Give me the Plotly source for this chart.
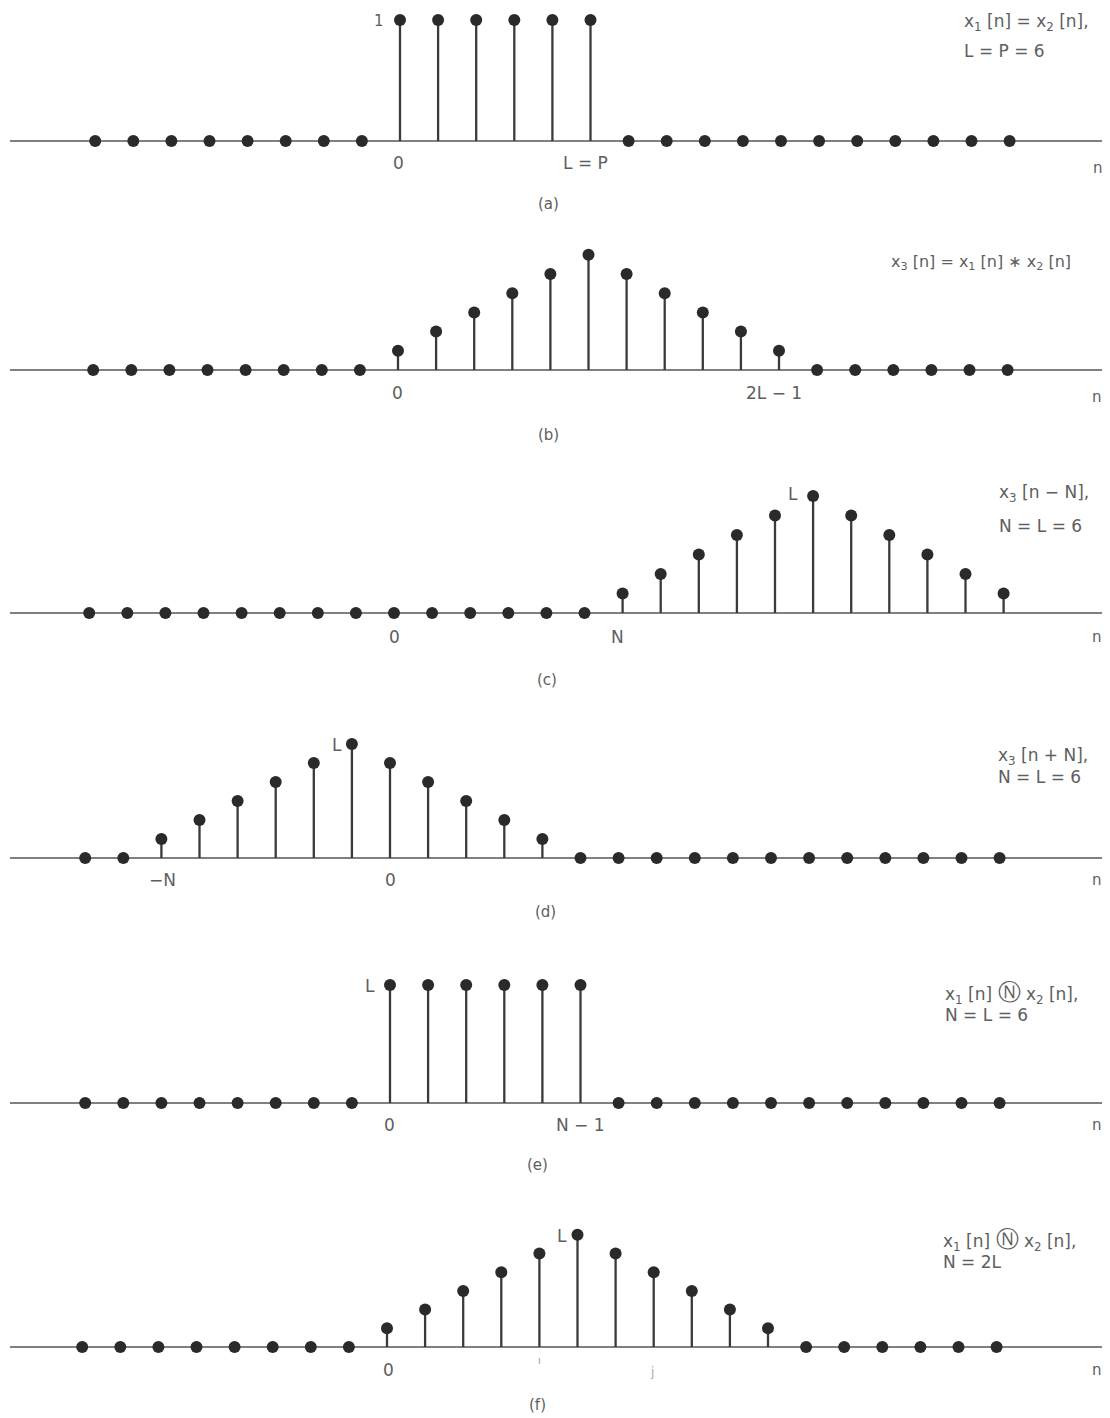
import plotly.graph_objects as go

OFF = 8                      # page body margin compensation
W, H = 1110 - 2 * OFF, 1418 - OFF

# ---- data ----
n = list(range(-8, 17))
a_vals = [0, 0, 0, 0, 0, 0, 0, 0, 1, 1, 1, 1, 1, 1, 0, 0, 0, 0, 0, 0, 0, 0, 0, 0, 0]
b_vals = [0, 0, 0, 0, 0, 0, 0, 0, 1, 2, 3, 4, 5, 6, 5, 4, 3, 2, 1, 0, 0, 0, 0, 0, 0]
c_vals = [0, 0, 0, 0, 0, 0, 0, 0, 0, 0, 0, 0, 0, 0, 1, 2, 3, 4, 5, 6, 5, 4, 3, 2, 1]
d_vals = [0, 0, 1, 2, 3, 4, 5, 6, 5, 4, 3, 2, 1, 0, 0, 0, 0, 0, 0, 0, 0, 0, 0, 0, 0]
e_vals = [0, 0, 0, 0, 0, 0, 0, 0, 6, 6, 6, 6, 6, 6, 0, 0, 0, 0, 0, 0, 0, 0, 0, 0, 0]
f_vals = [0, 0, 0, 0, 0, 0, 0, 0, 1, 2, 3, 4, 5, 6, 5, 4, 3, 2, 1, 0, 0, 0, 0, 0, 0]
series = [a_vals, b_vals, c_vals, d_vals, e_vals, f_vals]

# ---- layout geometry (screen pixels) ----
x0_px = [400, 398, 394, 390, 390, 387]      # pixel of n = 0 in each panel
step = 38.1                                  # pixels per sample
base_px = [141, 370, 613, 858, 1103, 1347]   # baseline pixel row
unit_px = [121, 19.2, 19.5, 19.0, 19.67, 18.7]
dom_l, dom_r = 10, 1102

STEM = '#3a3a3a'
DOT = '#2a2a2a'
TXT = '#5e5e5e'
FONT = 'DejaVu Sans'


def fx(px):
    return (px - OFF) / W


def fy(py):
    return 1 - (py - OFF) / H


fig = go.Figure()
layout = dict(width=W, height=H, margin=dict(l=0, r=0, t=0, b=0),
              paper_bgcolor='white', plot_bgcolor='white', showlegend=False)

for i, vals in enumerate(series):
    k = '' if i == 0 else str(i + 1)
    xs, ys = [], []
    for nn, v in zip(n, vals):
        if v != 0:
            xs += [nn, nn, None]
            ys += [0, v, None]
    fig.add_trace(go.Scatter(x=xs, y=ys, mode='lines',
                             line=dict(color=STEM, width=2.3),
                             xaxis='x' + k, yaxis='y' + k, hoverinfo='skip'))
    fig.add_trace(go.Scatter(x=n, y=vals, mode='markers',
                             marker=dict(color=DOT, size=12), cliponaxis=False,
                             xaxis='x' + k, yaxis='y' + k))
    xr = [(dom_l - x0_px[i]) / step, (dom_r - x0_px[i]) / step]
    top, bot = max(base_px[i] - 135, OFF), base_px[i] + 28
    yr = [(base_px[i] - bot) / unit_px[i], (base_px[i] - top) / unit_px[i]]
    layout['xaxis' + k] = dict(domain=[fx(dom_l), fx(dom_r)], range=xr,
                               showgrid=False, zeroline=False, showticklabels=False,
                               showline=False, ticks='', anchor='y' + k)
    layout['yaxis' + k] = dict(domain=[fy(bot), fy(top)], range=yr,
                               showgrid=False, zeroline=True, zerolinecolor='#808080',
                               zerolinewidth=2, showticklabels=False, showline=False,
                               ticks='', anchor='x' + k)

fig.update_layout(**layout)


def txt(px, py, s, size=17, xanchor='center', color=TXT):
    fig.add_annotation(x=fx(px), y=fy(py), xref='paper', yref='paper', text=s,
                       showarrow=False, xanchor=xanchor, yanchor='middle',
                       font=dict(family=FONT, size=size, color=color))


CN = '<span style="font-size:23px">Ⓝ</span>'

# panel (a)
txt(379, 21, '1', size=15)
txt(398, 163, '0')
txt(585, 163, 'L = P')
txt(1098, 168, 'n', size=15)
txt(548, 204, '(a)', size=15)
txt(962, 23, 'x<sub>1</sub> [n] = x<sub>2</sub> [n],', xanchor='left', size=17)
txt(962, 51, 'L = P = 6', xanchor='left', size=17)

# panel (b)
txt(397, 393, '0')
txt(774, 393, '2L − 1')
txt(1097, 397, 'n', size=15)
txt(548, 435, '(b)', size=15)
txt(889, 263, 'x<sub>3</sub> [n] = x<sub>1</sub> [n] ∗ x<sub>2</sub> [n]', xanchor='left', size=16)

# panel (c)
txt(394, 637, '0')
txt(618, 637, 'N')
txt(793, 494, 'L')
txt(1097, 637, 'n', size=15)
txt(547, 680, '(c)', size=15)
txt(997, 493, 'x<sub>3</sub> [n − N],', xanchor='left', size=17)
txt(997, 526, 'N = L = 6', xanchor='left', size=17)

# panel (d)
txt(162, 880, '−N')
txt(390, 880, '0')
txt(337, 745, 'L')
txt(1097, 880, 'n', size=15)
txt(545, 912, '(d)', size=15)
txt(996, 756, 'x<sub>3</sub> [n + N],', xanchor='left', size=17)
txt(996, 777, 'N = L = 6', xanchor='left', size=17)

# panel (e)
txt(370, 986, 'L')
txt(389, 1125, '0')
txt(580, 1125, 'N − 1')
txt(1097, 1125, 'n', size=15)
txt(537, 1165, '(e)', size=15)
txt(943, 993, 'x<sub>1</sub> [n] ' + CN + ' x<sub>2</sub> [n],', xanchor='left', size=17)
txt(943, 1015, 'N = L = 6', xanchor='left', size=17)

# panel (f)
txt(562, 1236, 'L')
txt(388, 1370, '0')
txt(539, 1360, 'ı', size=10, color='#999999')
txt(652, 1372, 'j', size=12, color='#aaaaaa')
txt(1097, 1370, 'n', size=15)
txt(537, 1405, '(f)', size=15)
txt(941, 1240, 'x<sub>1</sub> [n] ' + CN + ' x<sub>2</sub> [n],', xanchor='left', size=17)
txt(941, 1262, 'N = 2L', xanchor='left', size=17)

fig.write_html('out.html')
